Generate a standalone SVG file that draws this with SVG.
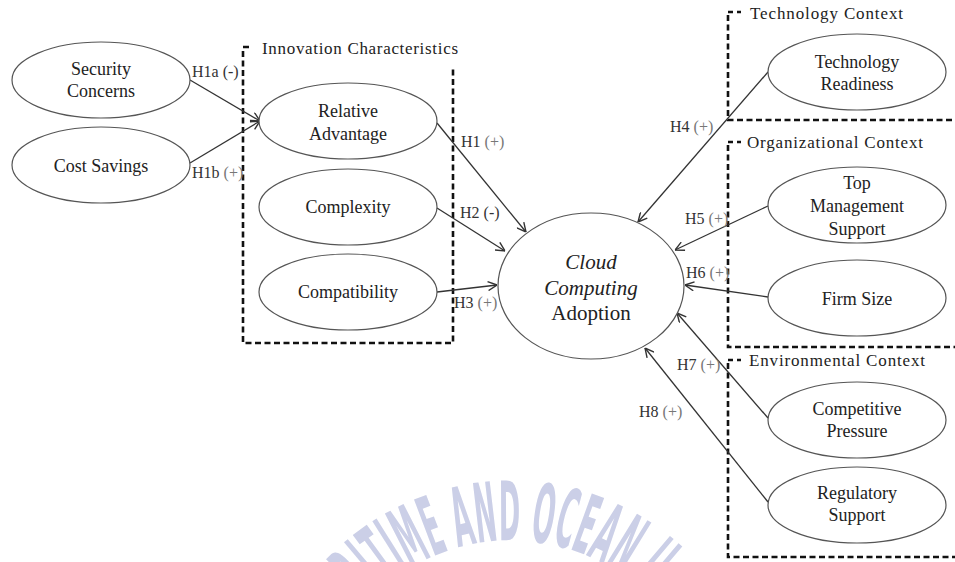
<svg xmlns="http://www.w3.org/2000/svg" width="955" height="562" viewBox="0 0 955 562">
  <defs>
    <marker id="arr" viewBox="0 0 10 10" refX="10" refY="5" markerWidth="10" markerHeight="10" markerUnits="userSpaceOnUse" orient="auto">
      <path d="M1,0.5 L10,5 L1,9.5" fill="none" stroke="#333" stroke-width="1.4"/>
    </marker>
    <path id="wmArc" d="M366.6,603.5 A196,196 0 0 1 648.8,597.2"/>
  </defs>
  <style>
    .node ellipse { fill: #fff; stroke: #555; stroke-width: 1.2; }
    .t { font-family: "Liberation Serif", "Times New Roman", serif; font-size: 18px; fill: #222; text-anchor: middle; }
    .ti { font-style: italic; }
    .big { font-size: 21px; }
    .lbl { font-family: "Liberation Serif", "Times New Roman", serif; font-size: 16px; fill: #333; }
    .pm { fill: #777; }
    .box { fill: none; stroke: #111; stroke-width: 2.6; stroke-dasharray: 6 3.5; }
    .boxlbl { font-family: "Liberation Serif", "Times New Roman", serif; font-size: 17px; fill: #222; }
    .conn line { stroke: #333; stroke-width: 1.3; marker-end: url(#arr); }
    .wm { font-family: "Liberation Sans Narrow", "DejaVu Sans Condensed", "Liberation Sans", sans-serif; font-size: 82px; font-weight: bold; fill: #cbcfe7; }
  </style>
  <rect width="955" height="562" fill="#fff"/>

  <!-- watermark -->
  <text class="wm" textLength="310" lengthAdjust="spacingAndGlyphs"><textPath href="#wmArc" textLength="310" lengthAdjust="spacingAndGlyphs">RITIME AND OCEAN U</textPath></text>

  <!-- dashed context boxes -->
  <g id="innovation-box">
    <path class="box" d="M243,47 H249 M243,51 V343 H453 V66"/>
    <text class="boxlbl" x="262" y="54" textLength="196" lengthAdjust="spacing">Innovation Characteristics</text>
  </g>
  <g id="technology-box">
    <path class="box" d="M728,12 H733 M737,12 H741 M728,15 V120 H955"/>
    <text class="boxlbl" x="750" y="19" textLength="153" lengthAdjust="spacing">Technology Context</text>
  </g>
  <g id="organizational-box">
    <path class="box" d="M728,142 H733 M737,142 H741 M728,145 V347 H955"/>
    <text class="boxlbl" x="747" y="148" textLength="176" lengthAdjust="spacing">Organizational Context</text>
  </g>
  <g id="environmental-box">
    <path class="box" d="M728,360 H733 M737,360 H741 M728,363 V557 H955"/>
    <text class="boxlbl" x="749" y="366" textLength="176" lengthAdjust="spacing">Environmental Context</text>
  </g>

  <!-- connectors -->
  <g id="connectors" class="conn">
    <line x1="190" y1="80" x2="260" y2="121"/>
    <line x1="190" y1="163" x2="260" y2="121"/>
    <line x1="437" y1="123" x2="526" y2="232"/>
    <line x1="437" y1="208" x2="505" y2="251"/>
    <line x1="437" y1="292" x2="497" y2="285"/>
    <line x1="768" y1="72" x2="638" y2="222"/>
    <line x1="768" y1="206" x2="675" y2="250"/>
    <line x1="768" y1="297" x2="685" y2="285"/>
    <line x1="768" y1="418" x2="677" y2="313"/>
    <line x1="768" y1="502" x2="645" y2="348"/>
  </g>

  <!-- connector labels -->
  <g id="labels">
    <text class="lbl" x="192" y="77">H1a <tspan>(-)</tspan></text>
    <text class="lbl" x="192" y="178">H1b <tspan class="pm">(+)</tspan></text>
    <text class="lbl" x="461" y="147">H1 <tspan class="pm">(+)</tspan></text>
    <text class="lbl" x="460" y="218">H2 <tspan>(-)</tspan></text>
    <text class="lbl" x="454" y="308">H3 <tspan class="pm">(+)</tspan></text>
    <text class="lbl" x="670" y="132">H4 <tspan class="pm">(+)</tspan></text>
    <text class="lbl" x="685" y="224">H5 <tspan class="pm">(+)</tspan></text>
    <text class="lbl" x="686" y="278">H6 <tspan class="pm">(+)</tspan></text>
    <text class="lbl" x="677" y="370">H7 <tspan class="pm">(+)</tspan></text>
    <text class="lbl" x="639" y="417">H8 <tspan class="pm">(+)</tspan></text>
  </g>

  <!-- nodes -->
  <g id="security-concerns" class="node">
    <ellipse cx="101" cy="80" rx="89" ry="38"/>
    <text class="t" x="101" y="75">Security</text>
    <text class="t" x="101" y="97">Concerns</text>
  </g>
  <g id="cost-savings" class="node">
    <ellipse cx="101" cy="165" rx="89" ry="38"/>
    <text class="t" x="101" y="172">Cost Savings</text>
  </g>
  <g id="relative-advantage" class="node">
    <ellipse cx="348" cy="121" rx="89" ry="38"/>
    <text class="t" x="348" y="117">Relative</text>
    <text class="t" x="348" y="140">Advantage</text>
  </g>
  <g id="complexity" class="node">
    <ellipse cx="348" cy="207" rx="89" ry="38"/>
    <text class="t" x="348" y="213">Complexity</text>
  </g>
  <g id="compatibility" class="node">
    <ellipse cx="348" cy="292" rx="89" ry="38"/>
    <text class="t" x="348" y="298">Compatibility</text>
  </g>
  <g id="cloud-computing-adoption" class="node">
    <ellipse cx="591" cy="286" rx="93" ry="73"/>
    <text class="t big ti" x="591" y="269">Cloud</text>
    <text class="t big ti" x="591" y="295">Computing</text>
    <text class="t big" x="591" y="320">Adoption</text>
  </g>
  <g id="technology-readiness" class="node">
    <ellipse cx="857" cy="72" rx="89" ry="38"/>
    <text class="t" x="857" y="68">Technology</text>
    <text class="t" x="857" y="90">Readiness</text>
  </g>
  <g id="top-management-support" class="node">
    <ellipse cx="857" cy="205" rx="89" ry="38"/>
    <text class="t" x="857" y="189">Top</text>
    <text class="t" x="857" y="212">Management</text>
    <text class="t" x="857" y="235">Support</text>
  </g>
  <g id="firm-size" class="node">
    <ellipse cx="857" cy="298" rx="89" ry="38"/>
    <text class="t" x="857" y="305">Firm Size</text>
  </g>
  <g id="competitive-pressure" class="node">
    <ellipse cx="857" cy="420" rx="89" ry="38"/>
    <text class="t" x="857" y="415">Competitive</text>
    <text class="t" x="857" y="437">Pressure</text>
  </g>
  <g id="regulatory-support" class="node">
    <ellipse cx="857" cy="505" rx="89" ry="38"/>
    <text class="t" x="857" y="499">Regulatory</text>
    <text class="t" x="857" y="521">Support</text>
  </g>
</svg>
